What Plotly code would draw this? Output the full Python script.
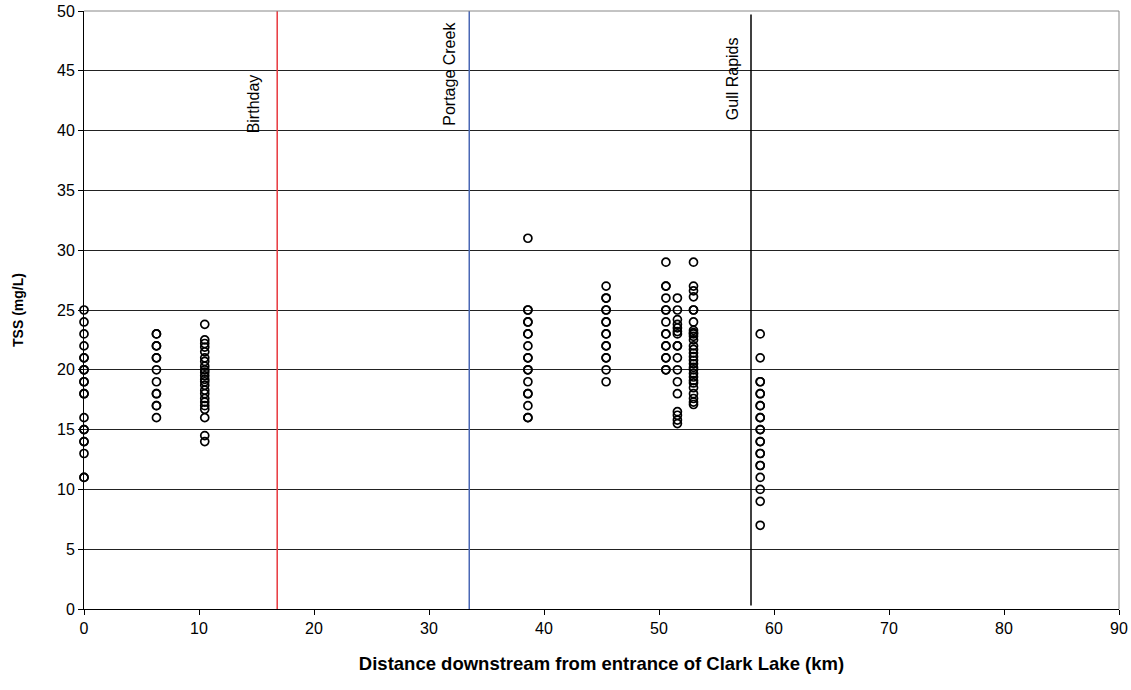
import plotly.graph_objects as go

# Sample sites: distance downstream (km) and TSS values (mg/L)
site_km = [0.0, 6.3, 10.5, 38.6, 45.4, 50.6, 51.6, 53.0, 58.8]
tss_values = [
    [25, 24, 23, 22, 21, 21, 20, 20, 19, 19, 18, 18, 16, 15, 15, 14, 14, 13, 11, 11],
    [23, 23, 22, 22, 21, 21, 20, 19, 18, 18, 17, 17, 16],
    [23.8, 22.5, 22.2, 21.9, 21.5, 21.0, 20.7, 20.3, 20.0, 19.8, 19.5, 19.2, 19.0,
     18.7, 18.3, 18.0, 17.6, 17.3, 17.0, 16.7, 16.0, 14.5, 14.0],
    [31, 25, 25, 24, 24, 23, 23, 22, 21, 21, 20, 20, 19, 18, 18, 17, 16, 16],
    [27, 26, 26, 25, 25, 24, 24, 23, 23, 22, 22, 21, 21, 20, 19],
    [29, 27, 27, 26, 25, 25, 24, 23, 23, 22, 22, 21, 21, 20, 20],
    [26, 25, 24.2, 23.8, 23.5, 23.2, 23, 22, 22, 21, 20, 19, 18, 16.5, 16.2, 15.8, 15.5],
    [29, 27, 26.6, 26.1, 25, 25, 24, 23.3, 23.1, 23, 22.8, 22.5, 22, 21.7, 21.4, 21.1,
     20.8, 20.5, 20.2, 20, 19.7, 19.4, 19.1, 18.9, 18.5, 18, 17.6, 17.3, 17.1],
    [23, 21, 19, 19, 18, 18, 17, 17, 16, 16, 15, 15, 14, 14, 13, 13, 12, 12, 11, 10, 9, 7],
]

# Reference locations (km)
ref_names = ["Birthday", "Portage Creek", "Gull Rapids"]
ref_km = [16.8, 33.5, 58.0]
ref_colors = ["#e8373d", "#4a68b5", "#000000"]
ref_y0 = [-0.3, -0.3, 0.3]
ref_y1 = [50, 50, 49.7]
label_x = [15.65, 32.7, 57.3]
label_y = [39.6, 40.2, 40.7]

x_ticks = list(range(0, 91, 10))
y_ticks = list(range(0, 51, 5))

xs, ys = [], []
for km, vals in zip(site_km, tss_values):
    xs += [km] * len(vals)
    ys += vals

FONT = "Liberation Sans, Arial"

fig = go.Figure()
fig.add_trace(go.Scatter(
    x=xs, y=ys, mode="markers",
    marker=dict(symbol="circle-open", size=8, color="black", line=dict(width=1.7, color="black")),
    showlegend=False, cliponaxis=False,
))

for name, km, col, y0, y1, lx, ly in zip(ref_names, ref_km, ref_colors, ref_y0, ref_y1, label_x, label_y):
    fig.add_shape(type="line", xref="x", yref="y", x0=km, x1=km, y0=y0, y1=y1,
                  line=dict(color=col, width=1.5), layer="above")
    fig.add_annotation(x=lx, y=ly, xref="x", yref="y", text=name, textangle=-90,
                       showarrow=False, xanchor="right", yanchor="bottom",
                       font=dict(family=FONT, size=16, color="black"))

fig.update_layout(
    width=1131, height=690,
    margin=dict(l=84, r=12, t=11, b=81),
    paper_bgcolor="white", plot_bgcolor="white",
    font=dict(family=FONT, size=15, color="black"),
)
fig.update_xaxes(
    range=[0, 90], tickvals=x_ticks, ticks="outside", ticklen=5, tickcolor="black",
    showgrid=False, zeroline=False, showline=True, linecolor="black", linewidth=1,
    automargin=False, tickfont=dict(size=16),
    title=dict(text="<b>Distance downstream from entrance of Clark Lake (km)</b>",
               font=dict(size=18.5), standoff=20),
)
fig.update_yaxes(
    range=[0, 50], tickvals=y_ticks, ticks="outside", ticklen=5, tickcolor="black",
    showgrid=True, gridcolor="#222222", gridwidth=1, zeroline=False,
    showline=True, linecolor="black", linewidth=1,
    automargin=False, tickfont=dict(size=16),
    title=dict(text="<b>TSS (mg/L)</b>", font=dict(size=14), standoff=30),
)
# Right and top border of plot area (gray)
fig.add_shape(type="line", xref="paper", yref="paper", x0=1, x1=1, y0=0, y1=1,
              line=dict(color="#888888", width=1))
fig.add_shape(type="line", xref="paper", yref="paper", x0=0, x1=1, y0=1, y1=1,
              line=dict(color="#888888", width=1))

fig.write_html("out.html", config={"displayModeBar": False},
               post_script="document.body.style.margin='0';")
